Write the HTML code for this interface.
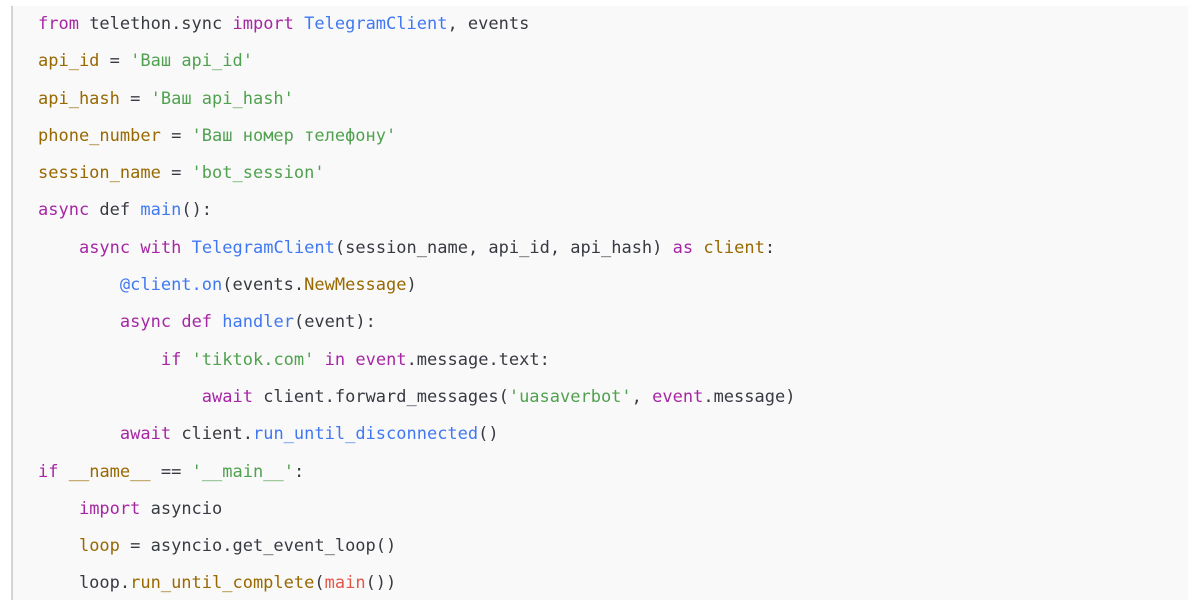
<!DOCTYPE html>
<html><head><meta charset="utf-8"><style>
html,body{margin:0;padding:0;background:#fff;width:1200px;height:606px;overflow:hidden}
.box{position:absolute;left:11px;top:6px;width:1177px;height:594px;background:#f9f9f9;border-left:2px solid #d4d4d4;box-sizing:border-box}
pre{position:absolute;left:38px;top:6px;margin:0;font-family:"DejaVu Sans Mono","Liberation Mono",monospace;font-size:17px;line-height:37.3px;color:#383a42}
.k{color:#a626a4}.f{color:#4078f2}.v{color:#986801}.s{color:#50a14f}.r{color:#e45649}
</style></head><body>
<div class="box"></div>
<pre><span class="k">from</span> telethon.sync <span class="k">import</span> <span class="f">TelegramClient</span>, events
<span class="v">api_id</span> = <span class="s">'Ваш api_id'</span>
<span class="v">api_hash</span> = <span class="s">'Ваш api_hash'</span>
<span class="v">phone_number</span> = <span class="s">'Ваш номер телефону'</span>
<span class="v">session_name</span> = <span class="s">'bot_session'</span>
<span class="k">async</span> def <span class="f">main</span>():
    <span class="k">async</span> <span class="k">with</span> <span class="f">TelegramClient</span>(session_name, api_id, api_hash) <span class="k">as</span> <span class="v">client</span>:
        <span class="f">@client.on</span>(events.<span class="v">NewMessage</span>)
        <span class="k">async</span> <span class="k">def</span> <span class="f">handler</span>(event):
            <span class="k">if</span> <span class="s">'tiktok.com'</span> <span class="k">in</span> <span class="k">event</span>.message.text:
                <span class="k">await</span> client.forward_messages(<span class="s">'uasaverbot'</span>, <span class="k">event</span>.message)
        <span class="k">await</span> client.<span class="f">run_until_disconnected</span>()
<span class="k">if</span> <span class="v">__name__</span> == <span class="s">'__main__'</span>:
    <span class="k">import</span> asyncio
    <span class="v">loop</span> = asyncio.get_event_loop()
    loop.<span class="v">run_until_complete</span>(<span class="r">main</span>())</pre>
</body></html>
